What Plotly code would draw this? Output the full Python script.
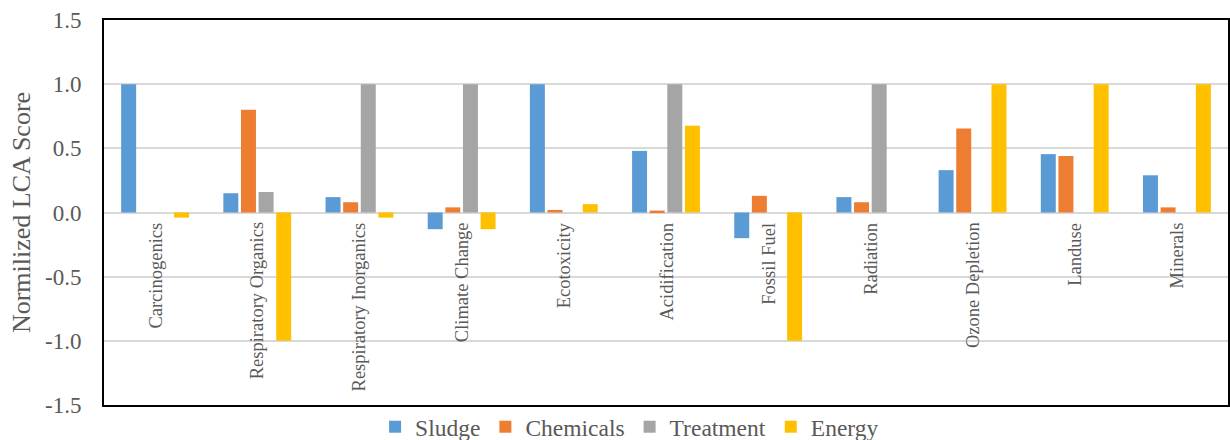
import plotly.graph_objects as go

categories = ["Carcinogenics", "Respiratory Organics", "Respiratory Inorganics", "Climate Change",
              "Ecotoxicity", "Acidification", "Fossil Fuel", "Radiation", "Ozone Depletion",
              "Landuse", "Minerals"]

sludge = [1.0, 0.15, 0.12, -0.13, 1.0, 0.48, -0.20, 0.12, 0.33, 0.455, 0.29]
chemicals = [0.0, 0.80, 0.08, 0.04, 0.02, 0.015, 0.13, 0.08, 0.655, 0.44, 0.04]
treatment = [0.0, 0.16, 1.0, 1.0, 0.0, 1.0, 0.0, 1.0, 0.0, 0.0, 0.0]
energy = [-0.04, -1.0, -0.04, -0.13, 0.065, 0.675, -1.0, 0.0, 1.0, 1.0, 1.0]

tick_vals = [-1.5, -1.0, -0.5, 0.0, 0.5, 1.0, 1.5]
tick_text = ["-1.5", "-1.0", "-0.5", "0.0", "0.5", "1.0", "1.5"]

series = [
    ("Sludge", sludge, "#5B9BD5"),
    ("Chemicals", chemicals, "#ED7D31"),
    ("Treatment", treatment, "#A5A5A5"),
    ("Energy", energy, "#FFC000"),
]

font_family = "Liberation Serif, Times New Roman, serif"
grey = "#595959"

fig = go.Figure()
for name, vals, color in series:
    fig.add_trace(go.Bar(x=categories, y=vals, name=name,
                         marker=dict(color=color, line=dict(width=0))))

# category labels sit just under the zero line, rotated
for cat in categories:
    fig.add_annotation(x=cat, y=0, xref="x", yref="y", text=cat, showarrow=False,
                       textangle=-90, yanchor="top", xanchor="center", yshift=-8,
                       font=dict(family=font_family, size=18.5, color=grey))

fig.update_layout(
    width=1230, height=440,
    margin=dict(l=104, r=2, t=20, b=35, autoexpand=False),
    plot_bgcolor="white", paper_bgcolor="white",
    barmode="group", bargap=0.31, bargroupgap=0.15,
    font=dict(family=font_family, color=grey),
    legend=dict(orientation="h", x=0.2412, xanchor="left", y=-0.057, yanchor="middle",
                bgcolor="rgba(0,0,0,0)",
                font=dict(family=font_family, size=23.5, color=grey), traceorder="normal"),
    xaxis=dict(showticklabels=False, ticks="", showgrid=False,
               showline=True, linecolor="black", linewidth=2, mirror=True),
    yaxis=dict(range=[-1.5, 1.5], tickvals=tick_vals, ticktext=tick_text,
               tickfont=dict(family=font_family, size=23, color=grey),
               ticklabelstandoff=16, ticks="",
               showgrid=True, gridcolor="#D9D9D9", gridwidth=2,
               zeroline=True, zerolinecolor="#D9D9D9", zerolinewidth=2,
               showline=True, linecolor="black", linewidth=2, mirror=True,
               title=dict(text="Normilized LCA Score", standoff=7,
                          font=dict(family=font_family, size=26, color=grey))),
)

# drop the default page margin so the figure sits flush in the window
fig.write_html("out.html", config={"displayModeBar": False},
               post_script="document.body.style.margin='0';document.body.style.overflow='hidden';")
